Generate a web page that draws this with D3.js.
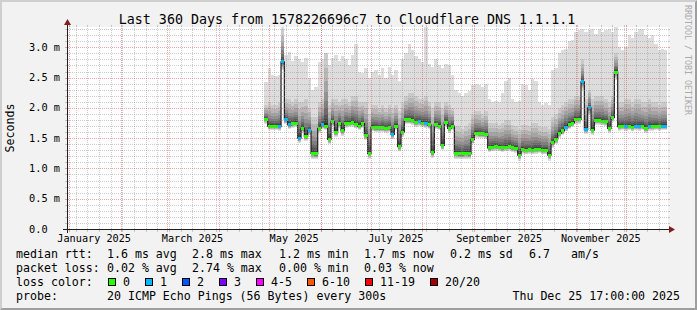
<!DOCTYPE html>
<html>
<head>
<meta charset="utf-8">
<script src="https://cdn.jsdelivr.net/npm/d3@7"></script>
<style>
body { margin: 0; background: #f2f2f2; }
svg { display: block; }
text { font-family: "DejaVu Sans Mono", monospace; fill: #000; }
</style>
</head>
<body>
<div id="chart"></div>
<script>
////////////////////////////////////////////////////////////////////////////////
//////////////////////////////////////////////////////////////////////// Data
////////////////////////////////////////////////////////////////////////////////

// one sample every 2 days, first one on 28 Apr 2025 (values in ms)
const firstSample = new Date(Date.UTC(2025, 3, 28, 3));
const stepDays = 2;

const medRtt = [
  1.81, 1.70, 1.70, 1.70, 1.69, 2.76, 1.80, 1.72, 1.74, 1.75,
  1.50, 1.66, 1.53, 1.62, 1.25, 1.24, 1.66, 1.72, 1.70, 1.48,
  1.77, 1.60, 1.74, 1.62, 1.74, 1.75, 1.76, 1.73, 1.70, 1.74,
  1.55, 1.25, 1.68, 1.67, 1.67, 1.67, 1.66, 1.67, 1.56, 1.70,
  1.36, 1.60, 1.80, 1.80, 1.79, 1.76, 1.77, 1.75, 1.74, 1.72,
  1.26, 1.72, 1.70, 1.38, 1.76, 1.66, 1.70, 1.25, 1.24, 1.24,
  1.25, 1.24, 1.48, 1.58, 1.57, 1.57, 1.56, 1.34, 1.35, 1.36,
  1.35, 1.34, 1.35, 1.36, 1.34, 1.33, 1.22, 1.31, 1.30, 1.31,
  1.30, 1.31, 1.32, 1.30, 1.30, 1.22, 1.42, 1.48, 1.58, 1.62,
  1.68, 1.72, 1.75, 1.81, 1.81, 2.43, 1.64, 2.00, 1.63, 1.79,
  1.79, 1.78, 1.77, 1.66, 1.84, 2.59, 1.69, 1.70, 1.69, 1.70,
  1.68, 1.70, 1.69, 1.70, 1.66, 1.69, 1.69, 1.70, 1.69, 1.70, 1.70
];

const lowRtt = [
  1.74, 1.63, 1.63, 1.63, 1.62, 2.62, 1.73, 1.65, 1.67, 1.68,
  1.42, 1.59, 1.45, 1.55, 1.16, 1.15, 1.59, 1.65, 1.63, 1.40,
  1.70, 1.52, 1.67, 1.54, 1.67, 1.68, 1.69, 1.66, 1.63, 1.67,
  1.47, 1.16, 1.61, 1.60, 1.60, 1.60, 1.59, 1.60, 1.48, 1.63,
  1.28, 1.52, 1.73, 1.73, 1.72, 1.69, 1.70, 1.68, 1.67, 1.65,
  1.17, 1.65, 1.63, 1.30, 1.69, 1.59, 1.63, 1.16, 1.15, 1.15,
  1.16, 1.15, 1.40, 1.51, 1.50, 1.50, 1.49, 1.27, 1.28, 1.29,
  1.28, 1.27, 1.28, 1.29, 1.27, 1.26, 1.13, 1.24, 1.23, 1.24,
  1.23, 1.24, 1.25, 1.23, 1.23, 1.13, 1.34, 1.40, 1.50, 1.55,
  1.61, 1.65, 1.68, 1.74, 1.74, 2.30, 1.57, 1.88, 1.56, 1.72,
  1.72, 1.71, 1.70, 1.59, 1.77, 2.46, 1.62, 1.63, 1.62, 1.63,
  1.61, 1.63, 1.62, 1.63, 1.59, 1.62, 1.62, 1.63, 1.62, 1.63, 1.63
];

const highRtt = [
  2.05, 2.10, 2.05, 2.05, 2.10, 3.30, 2.15, 2.15, 2.10, 2.15,
  2.10, 2.10, 2.15, 2.00, 1.85, 1.85, 2.10, 2.15, 2.90, 2.05,
  2.15, 2.15, 2.10, 2.15, 2.15, 2.10, 2.20, 2.20, 2.10, 2.10,
  2.10, 1.90, 2.05, 2.05, 2.00, 2.05, 2.00, 2.05, 2.00, 2.05,
  1.95, 2.10, 2.20, 2.25, 2.25, 2.20, 2.15, 2.15, 2.20, 2.10,
  2.00, 2.10, 2.10, 2.00, 2.10, 2.05, 2.00, 1.70, 1.70, 1.65,
  1.70, 1.75, 1.90, 1.95, 1.95, 1.90, 1.95, 1.75, 1.75, 1.75,
  1.72, 1.75, 1.80, 1.80, 1.72, 1.70, 1.65, 1.72, 1.72, 1.70,
  1.75, 1.75, 1.70, 1.68, 1.68, 1.65, 1.85, 1.90, 2.00, 2.05,
  2.10, 2.15, 2.15, 2.20, 2.20, 2.80, 2.15, 2.30, 2.15, 2.20,
  2.20, 2.20, 2.15, 2.10, 2.20, 2.90, 2.10, 2.10, 2.15, 2.15,
  2.10, 2.15, 2.15, 2.10, 2.10, 2.15, 2.10, 2.10, 2.05, 2.10, 2.10
];

const maxRtt = [
  2.43, 2.66, 2.55, 2.52, 2.55, 3.33, 2.88, 2.92, 2.78, 2.85,
  2.80, 2.76, 2.82, 2.50, 2.30, 2.35, 2.75, 2.80, 2.90, 2.70,
  2.82, 2.88, 2.78, 2.85, 2.80, 2.70, 2.88, 3.05, 2.60, 2.58,
  2.66, 2.50, 2.60, 2.62, 2.55, 2.65, 2.50, 2.68, 2.55, 2.62,
  2.45, 2.80, 2.90, 3.05, 2.95, 2.85, 2.80, 2.75, 3.33, 2.72,
  2.68, 2.80, 2.70, 2.65, 2.72, 2.70, 2.55, 2.30, 2.25, 2.20,
  2.25, 2.28, 2.38, 2.40, 2.38, 2.35, 2.40, 2.15, 2.10, 2.12,
  2.10, 2.25, 2.45, 2.50, 2.15, 2.10, 2.12, 2.40, 2.38, 2.30,
  2.48, 2.45, 2.10, 2.05, 2.08, 2.05, 2.62, 2.65, 2.90, 2.95,
  2.98, 3.10, 3.12, 3.25, 3.28, 3.30, 3.25, 3.28, 3.30, 3.22,
  3.30, 3.25, 3.28, 3.30, 3.26, 3.33, 3.00, 2.95, 3.00, 3.20,
  3.15, 3.25, 3.30, 3.30, 3.20, 3.15, 3.20, 3.05, 2.95, 2.98, 2.95
];

// lost pings per sample (index into lossColors)
const lossIdx = [
  0, 0, 0, 0, 1, 1, 1, 1, 0, 0,
  1, 0, 0, 1, 0, 0, 0, 1, 0, 0,
  0, 0, 0, 0, 0, 0, 0, 0, 0, 0,
  0, 0, 0, 0, 0, 0, 0, 0, 1, 0,
  0, 0, 0, 0, 0, 0, 1, 0, 1, 0,
  0, 0, 0, 0, 0, 0, 0, 0, 0, 0,
  0, 0, 0, 0, 0, 0, 0, 0, 0, 0,
  0, 0, 0, 0, 0, 0, 0, 0, 0, 0,
  0, 0, 0, 0, 0, 0, 0, 0, 0, 0,
  1, 0, 0, 0, 0, 1, 1, 1, 0, 0,
  0, 0, 0, 0, 0, 0, 0, 0, 1, 0,
  0, 1, 1, 0, 0, 1, 0, 0, 0, 1, 1
];

const lossLabels = ["0", "1", "2", "3", "4-5", "6-10", "11-19", "20/20"];
const lossColors = ["#26ff00", "#00b8ff", "#0059ff", "#7e00ff", "#ff00ff", "#ff5500", "#ff0000", "#a00000"];

const yTicks = [0, 0.5, 1.0, 1.5, 2.0, 2.5, 3.0];
const yTickLabels = ["0.0", "0.5 m", "1.0 m", "1.5 m", "2.0 m", "2.5 m", "3.0 m"];

const titleText = "Last 360 Days from 1578226696c7 to Cloudflare DNS 1.1.1.1";
const rttStats = ["1.6 ms avg", "2.8 ms max", "1.2 ms min", "1.7 ms now", "0.2 ms sd", "6.7", "am/s"];
const lossStats = ["0.02 % avg", "2.74 % max", "0.00 % min", "0.03 % now"];
const probeText = "20 ICMP Echo Pings (56 Bytes) every 300s";
const stampText = "Thu Dec 25 17:00:00 2025";

////////////////////////////////////////////////////////////////////////////////
/////////////////////////////////////////////////////////////////////// Layout
////////////////////////////////////////////////////////////////////////////////

const W = 697, H = 310;
const x0 = 67, x1 = 667, yTop = 27, yBot = 229;

const tStart = new Date(Date.UTC(2024, 11, 30, 17));
const tEnd = new Date(Date.UTC(2025, 11, 25, 17));

const xScale = d3.scaleUtc().domain([tStart, tEnd]).range([x0, x1]);
const yScale = d3.scaleLinear().domain([0, 3.335]).range([yBot, yTop]);

// rrdtool style grid colours (semi transparent)
const gridCol = "rgba(143,143,143,0.45)";
const mgridCol = "rgba(222,79,79,0.5)";

const svg = d3.select("#chart")
  .append("svg")
  .attr("width", W)
  .attr("height", H);

// dotted grid patterns (1px on, 1px off)
const defs = svg.append("defs");
[["h-minor", 2, 1, gridCol], ["h-major", 2, 1, mgridCol],
 ["v-minor", 1, 2, gridCol], ["v-major", 1, 2, mgridCol]].forEach(function(p) {
  defs.append("pattern")
    .attr("id", p[0])
    .attr("patternUnits", "userSpaceOnUse")
    .attr("width", p[1]).attr("height", p[2])
  .append("rect")
    .attr("width", 1).attr("height", 1)
    .attr("fill", p[3]);
});

// background + 3d frame
svg.append("rect").attr("width", W).attr("height", H).attr("fill", "#f2f2f2");
svg.append("path")
  .attr("d", `M0,${H}L2,${H - 2}L2,2L${W - 2},2L${W},0L0,0Z`)
  .attr("fill", "#cfcfcf");
svg.append("path")
  .attr("d", `M2,${H - 2}L${W - 2},${H - 2}L${W - 2},2L${W},0L${W},${H}L0,${H}Z`)
  .attr("fill", "#9e9e9e");

// canvas
svg.append("rect")
  .attr("x", x0).attr("y", yTop)
  .attr("width", x1 - x0 + 1).attr("height", yBot - yTop)
  .attr("fill", "#ffffff");

svg.append("clipPath").attr("id", "canvas-clip")
  .append("rect")
  .attr("x", x0).attr("y", yTop)
  .attr("width", x1 - x0).attr("height", yBot - yTop);

////////////////////////////////////////////////////////////////////////////////
//////////////////////////////////////////////////////////////////// Smoke
////////////////////////////////////////////////////////////////////////////////

const samples = medRtt.map(function(m, i) {
  return {
    date: d3.utcDay.offset(firstSample, i * stepDays),
    med: m,
    low: lowRtt[i],
    high: highRtt[i],
    max: maxRtt[i],
    loss: lossIdx[i]
  };
});
// closing edge for the step curves
const lastS = samples[samples.length - 1];
const stepped = samples.concat([Object.assign({}, lastS, { date: d3.utcDay.offset(lastS.date, stepDays) })]);

const plot = svg.append("g").attr("clip-path", "url(#canvas-clip)");

// nested percentile bands, outer = light, inner = dark
const topFrac = [1, 1, 0.8, 0.62, 0.47, 0.35, 0.25, 0.16, 0.09, 0.04];
const botFrac = [0, 0.2, 0.35, 0.5, 0.6, 0.7, 0.8, 0.87, 0.93, 0.97];

d3.range(10).forEach(function(k) {
  const c = Math.floor(190 / 10 * (10 - (k + 1))) + 50;
  const area = d3.area()
    .curve(d3.curveStepAfter)
    .x(function(d) { return xScale(d.date); })
    .y0(function(d) { return yScale(d.low + (d.med - d.low) * botFrac[k]); })
    .y1(function(d) {
      return yScale(k === 0 ? d.max : d.med + (d.high - d.med) * topFrac[k]);
    });
  plot.append("path")
    .datum(stepped)
    .attr("d", area)
    .attr("fill", d3.rgb(c, c, c).toString())
    .attr("shape-rendering", "crispEdges");
});

////////////////////////////////////////////////////////////////////////////////
/////////////////////////////////////////////////////////////////// Median rtt
////////////////////////////////////////////////////////////////////////////////

const medLine = d3.line()
  .curve(d3.curveStepAfter)
  .x(function(d) { return xScale(d.date); })
  .y(function(d) { return yScale(d.med); });

plot.append("path")
  .datum(stepped)
  .attr("d", medLine)
  .attr("fill", "none")
  .attr("stroke", "#202020")
  .attr("stroke-width", 1.2);

plot.selectAll(".med-bar")
  .data(samples)
  .join("rect")
    .attr("class", "med-bar")
    .attr("x", function(d) { return xScale(d.date); })
    .attr("width", function(d) { return xScale(d3.utcDay.offset(d.date, stepDays)) - xScale(d.date); })
    .attr("y", function(d) { return yScale(d.med) - 1.5; })
    .attr("height", 3)
    .attr("fill", function(d) { return lossColors[d.loss]; })
    .attr("shape-rendering", "crispEdges");

////////////////////////////////////////////////////////////////////////////////
//////////////////////////////////////////////////////////////////////// Grid
////////////////////////////////////////////////////////////////////////////////

const grid = svg.append("g").attr("shape-rendering", "crispEdges");

// horizontal minor / major every 0.1 ms
d3.range(1, 34).forEach(function(n) {
  const major = n % 5 === 0;
  const y = Math.round(yScale(n / 10));
  grid.append("rect")
    .attr("x", x0).attr("y", y)
    .attr("width", x1 - x0).attr("height", 1)
    .attr("fill", major ? "url(#h-major)" : "url(#h-minor)");
  grid.append("rect")
    .attr("x", x0 - 2).attr("y", y).attr("width", 2).attr("height", 1)
    .attr("fill", major ? mgridCol : gridCol);
  grid.append("rect")
    .attr("x", x1 + 1).attr("y", y).attr("width", 2).attr("height", 1)
    .attr("fill", major ? mgridCol : gridCol);
});

// vertical: weeks (minor) and months (major)
const weeks = d3.utcSunday.range(tStart, tEnd);
const months = d3.utcMonth.range(tStart, tEnd);

function vLine(t, major) {
  const x = Math.round(xScale(t));
  const col = major ? mgridCol : gridCol;
  grid.append("rect")
    .attr("x", x).attr("y", yTop)
    .attr("width", 1).attr("height", yBot - yTop)
    .attr("fill", major ? "url(#v-major)" : "url(#v-minor)");
  grid.append("rect")
    .attr("x", x).attr("y", yTop - 2).attr("width", 1).attr("height", 2)
    .attr("fill", col);
  grid.append("rect")
    .attr("x", x).attr("y", yBot + 1).attr("width", 1).attr("height", 2)
    .attr("fill", col);
}
weeks.forEach(function(t) { vLine(t, false); });
months.forEach(function(t) { vLine(t, true); });

////////////////////////////////////////////////////////////////////////////////
//////////////////////////////////////////////////////////////////////// Axes
////////////////////////////////////////////////////////////////////////////////

svg.append("line")
  .attr("x1", x0 - 4).attr("x2", x1 + 4).attr("y1", yBot + 0.5).attr("y2", yBot + 0.5)
  .attr("stroke", "#1f1f1f");
svg.append("line")
  .attr("x1", x0 + 0.5).attr("x2", x0 + 0.5).attr("y1", yBot + 4).attr("y2", yTop - 4)
  .attr("stroke", "#1f1f1f");
svg.append("path")
  .attr("d", `M${x1 + 2},${yBot - 3}L${x1 + 2},${yBot + 4}L${x1 + 8},${yBot + 0.5}Z`)
  .attr("fill", "#801f1f");
svg.append("path")
  .attr("d", `M${x0 - 3},${yTop - 2}L${x0 + 4},${yTop - 2}L${x0 + 0.5},${yTop - 8}Z`)
  .attr("fill", "#801f1f");

// y labels
svg.selectAll(".ylab")
  .data(yTicks)
  .join("text")
    .attr("class", "ylab")
    .attr("x", 29)
    .attr("y", function(d) { return yScale(d) + 3.5; })
    .style("font-size", "10.3px")
    .text(function(d, i) { return yTickLabels[i]; });

// x labels, centred half a month after the month start
const labelMonths = d3.utcMonth.every(2).range(tStart, tEnd);
svg.selectAll(".xlab")
  .data(labelMonths)
  .join("text")
    .attr("class", "xlab")
    .attr("x", function(d) { return xScale(d3.utcDay.offset(d, 15)); })
    .attr("y", 242)
    .style("text-anchor", "middle")
    .style("font-size", "10.2px")
    .text(d3.utcFormat("%B %Y"));

// title
svg.append("text")
  .attr("x", 347)
  .attr("y", 24)
  .style("text-anchor", "middle")
  .style("font-size", "13.3px")
  .text(titleText);

// vertical label
svg.append("text")
  .attr("transform", "translate(14,128) rotate(-90)")
  .style("text-anchor", "middle")
  .style("font-size", "11.6px")
  .text("Seconds");

// watermark
svg.append("text")
  .attr("transform", "translate(685,5) rotate(90)")
  .style("font-size", "8.3px")
  .style("fill", "#aaaaaa")
  .text("RRDTOOL / TOBI OETIKER");

////////////////////////////////////////////////////////////////////////////////
////////////////////////////////////////////////////////////////////// Legend
////////////////////////////////////////////////////////////////////////////////

const legend = svg.append("g").style("font-size", "11.6px");

function legText(x, y, s, anchor) {
  legend.append("text")
    .attr("x", x).attr("y", y)
    .style("text-anchor", anchor || "start")
    .text(s);
}

const rttX = [107, 192, 279, 364, 450, 529, 571];
legText(16, 258, "median rtt:");
rttStats.forEach(function(s, i) { legText(rttX[i], 258, s); });

legText(16, 272, "packet loss:");
lossStats.forEach(function(s, i) { legText(rttX[i], 272, s); });

legText(16, 286, "loss color:");
const boxX = [108, 145, 182, 219, 256, 307, 365, 430];
lossLabels.forEach(function(s, i) {
  legend.append("rect")
    .attr("x", boxX[i] + 0.5).attr("y", 278.5)
    .attr("width", 7).attr("height", 7)
    .attr("fill", lossColors[i])
    .attr("stroke", "#000");
  legText(boxX[i] + 15, 286, s);
});

legText(16, 300, "probe:");
legText(107, 300, probeText);
legText(680, 300, stampText, "end");
</script>
</body>
</html>
